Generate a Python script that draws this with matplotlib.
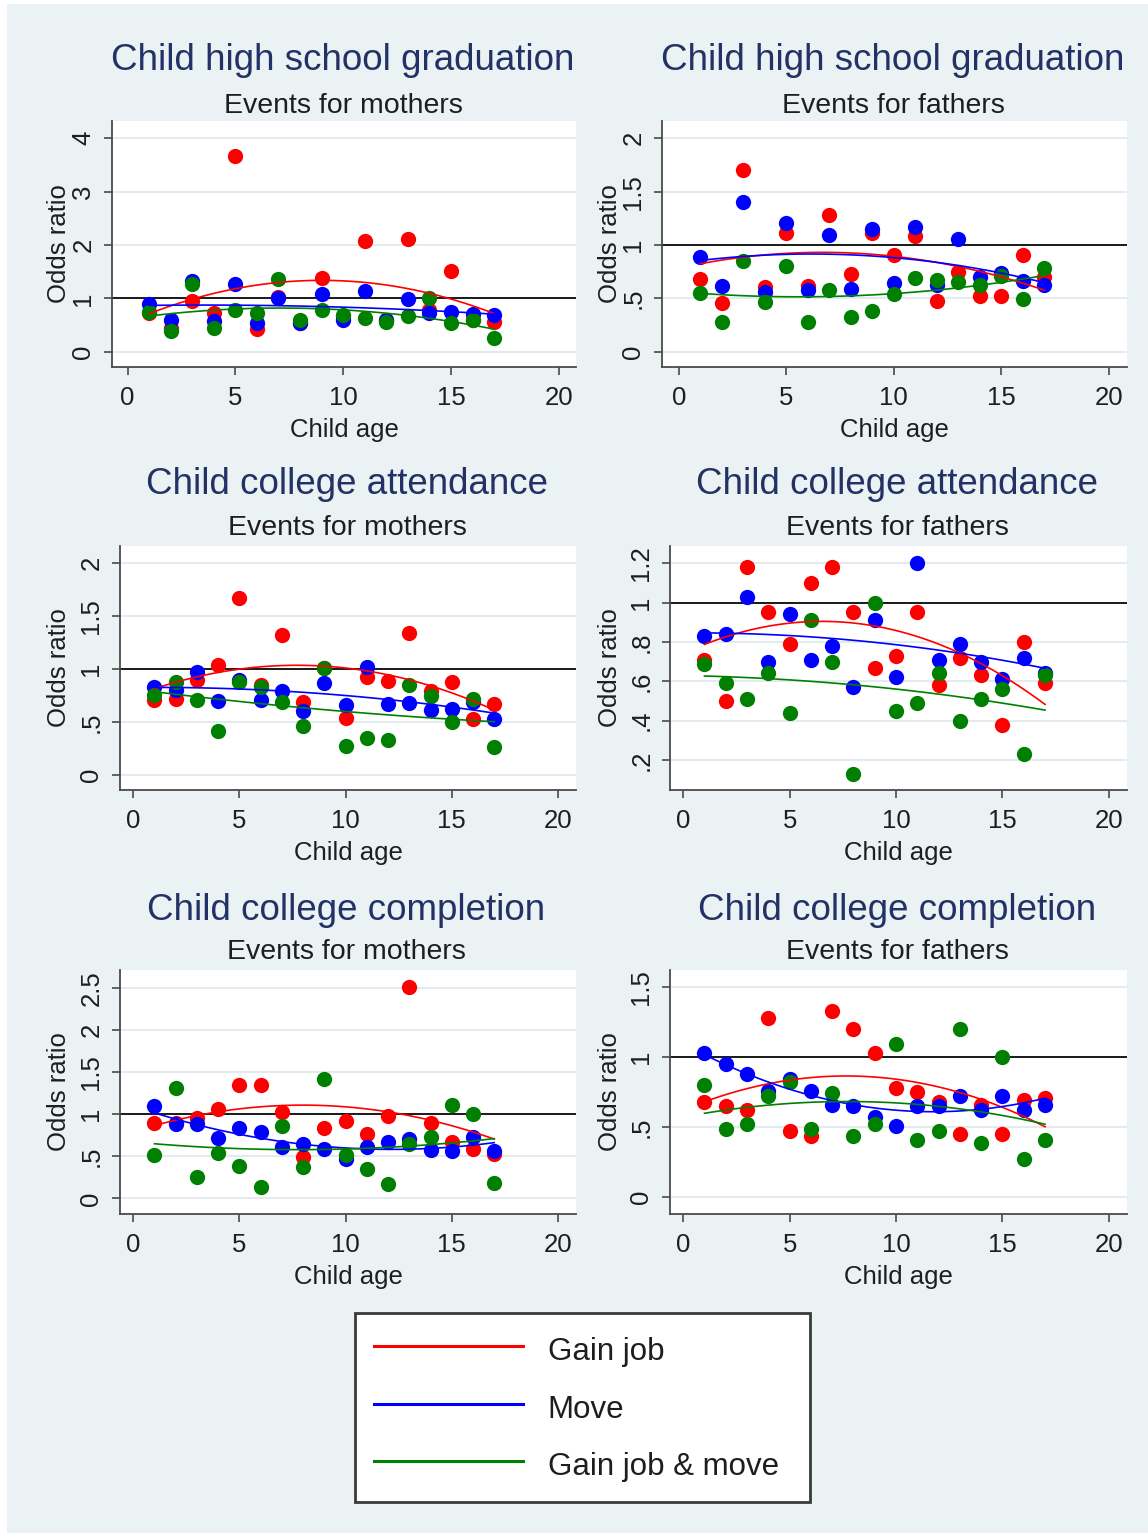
import numpy as np
import matplotlib
matplotlib.use('Agg')
import matplotlib.pyplot as plt
from matplotlib.lines import Line2D
from matplotlib.patches import Rectangle

plt.rcParams['font.family'] = ['Liberation Sans', 'DejaVu Sans']

W, H = 1148, 1533

# --- datos --------------------------------------------------------------
ages = list(range(1, 18))

# high school graduation, mothers
hs_mom_job = [0.72, 0.44, 0.95, 0.72, 3.67, 0.42, 1.02, 0.53, 1.39, 0.65, 2.07, 0.59, 2.12, 0.79, 1.51, 0.60, 0.56]
hs_mom_move = [0.90, 0.59, 1.33, 0.58, 1.26, 0.53, 1.00, 0.53, 1.09, 0.60, 1.14, 0.59, 0.98, 0.72, 0.75, 0.71, 0.69]
hs_mom_both = [0.75, 0.38, 1.26, 0.44, 0.78, 0.72, 1.36, 0.59, 0.79, 0.69, 0.63, 0.56, 0.67, 1.00, 0.54, 0.59, 0.26]

# high school graduation, fathers
hs_dad_job = [0.68, 0.46, 1.70, 0.61, 1.11, 0.62, 1.28, 0.73, 1.11, 0.91, 1.08, 0.48, 0.75, 0.52, 0.52, 0.91, 0.70]
hs_dad_move = [0.89, 0.62, 1.40, 0.56, 1.21, 0.58, 1.09, 0.59, 1.15, 0.64, 1.17, 0.63, 1.06, 0.70, 0.74, 0.66, 0.63]
hs_dad_both = [0.55, 0.28, 0.85, 0.47, 0.80, 0.28, 0.58, 0.33, 0.38, 0.54, 0.69, 0.67, 0.65, 0.63, 0.71, 0.49, 0.78]

# college attendance, mothers
att_mom_job = [0.71, 0.72, 0.90, 1.04, 1.67, 0.85, 1.32, 0.69, 1.01, 0.54, 0.93, 0.89, 1.34, 0.79, 0.88, 0.53, 0.67]
att_mom_move = [0.83, 0.80, 0.97, 0.70, 0.90, 0.71, 0.79, 0.60, 0.87, 0.66, 1.02, 0.67, 0.68, 0.61, 0.62, 0.69, 0.53]
att_mom_both = [0.76, 0.88, 0.71, 0.42, 0.88, 0.83, 0.69, 0.46, 1.01, 0.27, 0.35, 0.33, 0.85, 0.75, 0.50, 0.72, 0.26]

# college attendance, fathers
att_dad_job = [0.71, 0.50, 1.18, 0.95, 0.79, 1.10, 1.18, 0.95, 0.67, 0.73, 0.95, 0.58, 0.72, 0.63, 0.38, 0.80, 0.59]
att_dad_move = [0.83, 0.84, 1.03, 0.70, 0.94, 0.71, 0.78, 0.57, 0.91, 0.62, 1.20, 0.71, 0.79, 0.70, 0.61, 0.72, 0.64]
att_dad_both = [0.69, 0.59, 0.51, 0.64, 0.44, 0.91, 0.70, 0.13, 1.00, 0.45, 0.49, 0.64, 0.40, 0.51, 0.56, 0.23, 0.63]

# college completion, mothers
comp_mom_job = [0.89, 0.90, 0.95, 1.06, 1.34, 1.35, 1.02, 0.49, 0.84, 0.92, 0.76, 0.98, 2.51, 0.89, 0.67, 0.59, 0.53]
comp_mom_move = [1.09, 0.88, 0.88, 0.72, 0.83, 0.79, 0.61, 0.64, 0.58, 0.47, 0.61, 0.67, 0.70, 0.57, 0.56, 0.73, 0.56]
comp_mom_both = [0.52, 1.31, 0.25, 0.54, 0.38, 0.13, 0.86, 0.37, 1.42, 0.52, 0.35, 0.17, 0.65, 0.73, 1.11, 1.00, 0.18]

# college completion, fathers
comp_dad_job = [0.68, 0.65, 0.62, 1.28, 0.47, 0.44, 1.33, 1.20, 1.03, 0.78, 0.75, 0.68, 0.45, 0.66, 0.45, 0.69, 0.71]
comp_dad_move = [1.03, 0.95, 0.88, 0.76, 0.84, 0.76, 0.66, 0.65, 0.57, 0.51, 0.65, 0.65, 0.72, 0.62, 0.72, 0.62, 0.66]
comp_dad_both = [0.80, 0.49, 0.52, 0.72, 0.82, 0.49, 0.74, 0.44, 0.52, 1.09, 0.41, 0.47, 1.20, 0.39, 1.00, 0.27, 0.41]

series_names = ['Gain job', 'Move', 'Gain job & move']
outcomes = ['Child high school graduation', 'Child college attendance', 'Child college completion']
parents = ['Events for mothers', 'Events for fathers']

x_ticks = [0, 5, 10, 15, 20]
y_ticks = [[0, 1, 2, 3, 4], [0, 0.5, 1, 1.5, 2],
           [0, 0.5, 1, 1.5, 2], [0.2, 0.4, 0.6, 0.8, 1, 1.2],
           [0, 0.5, 1, 1.5, 2, 2.5], [0, 0.5, 1, 1.5]]
y_ticklabels = [['0', '1', '2', '3', '4'], ['0', '.5', '1', '1.5', '2'],
                ['0', '.5', '1', '1.5', '2'], ['.2', '.4', '.6', '.8', '1', '1.2'],
                ['0', '.5', '1', '1.5', '2', '2.5'], ['0', '.5', '1', '1.5']]

panel_data = [
    (hs_mom_job, hs_mom_move, hs_mom_both),
    (hs_dad_job, hs_dad_move, hs_dad_both),
    (att_mom_job, att_mom_move, att_mom_both),
    (att_dad_job, att_dad_move, att_dad_both),
    (comp_mom_job, comp_mom_move, comp_mom_both),
    (comp_dad_job, comp_dad_move, comp_dad_both),
]

# --- estilo / posiciones (pixeles) --------------------------------------
colors = ['#ff0000', '#0000ff', '#008000']
bg = '#eaf2f3'
title_col = '#233266'
txt_col = '#1e1e1e'

# x0, y0, x1, y1 en pixeles; limites de ejes
rects = [(112, 121, 576, 367), (662, 121, 1127, 367),
         (120, 546, 576, 790), (670, 546, 1127, 790),
         (120, 970, 576, 1214), (670, 970, 1127, 1214)]
xlims = [(-0.72, 20.8), (-0.78, 20.85), (-0.62, 20.85), (-0.62, 20.85), (-0.62, 20.85), (-0.62, 20.85)]
ylims = [(-0.287, 4.324), (-0.143, 2.162), (-0.142, 2.164), (0.0475, 1.288), (-0.186, 2.71), (-0.119, 1.619)]
title_x = [343, 893, 347, 897, 346, 897]
title_y = [61, 485, 910]
sub_y = [106, 528, 952]

fig = plt.figure(figsize=(W / 100, H / 100), dpi=100, facecolor='white')
fig.patches.append(Rectangle((7 / W, 0), 1 - 7 / W, 1 - 4 / H, transform=fig.transFigure,
                             facecolor=bg, edgecolor='none', zorder=-10))


def px_rect(x0, y0, x1, y1):
    return [x0 / W, 1 - y1 / H, (x1 - x0) / W, (y1 - y0) / H]


x_fit = np.linspace(1, 17, 120)

for i, (r, datos) in enumerate(zip(rects, panel_data)):
    ax = fig.add_axes(px_rect(*r))
    ax.set_facecolor('white')
    ax.set_xlim(*xlims[i])
    ax.set_ylim(*ylims[i])

    for vals, c in zip(datos, colors):
        ax.plot(ages, vals, 'o', color=c, ms=11, mew=0, zorder=3)
    # ajuste cuadratico (qfit)
    for vals, c in zip(datos, colors):
        coefs = np.polyfit(ages, vals, 2)
        ax.plot(x_fit, np.polyval(coefs, x_fit), color=c, lw=1.2, zorder=4)

    ax.axhline(1, color='#1a1a1a', lw=1.4, zorder=2)

    ax.set_xticks(x_ticks)
    ax.set_yticks(y_ticks[i])
    ax.set_yticklabels(y_ticklabels[i])
    for lbl in ax.get_yticklabels():
        lbl.set_rotation(90)
        lbl.set_va('center')
    ax.yaxis.grid(True, color='#e3ebee', lw=1.5, zorder=0)
    ax.set_axisbelow(True)

    for s in ['top', 'right']:
        ax.spines[s].set_visible(False)
    for s in ['left', 'bottom']:
        ax.spines[s].set_color('#4a4a4a')
        ax.spines[s].set_linewidth(1.3)
    ax.tick_params(direction='out', length=6, width=1.2, color='#4a4a4a',
                   labelsize=18.5, labelcolor=txt_col, pad=6)
    ax.tick_params(axis='x', pad=8)

    w_px = r[2] - r[0]
    h_px = r[3] - r[1]
    ax.set_xlabel('Child age', fontsize=18.5, color=txt_col)
    ax.xaxis.set_label_coords(0.5, -51 / h_px)
    ax.set_ylabel('Odds ratio', fontsize=18.5, color=txt_col)
    ylab_x = 57 if i % 2 == 0 else 608
    ax.yaxis.set_label_coords((ylab_x + 14 - r[0]) / w_px, 0.5)

    row = i // 2
    fig.text(title_x[i] / W, 1 - title_y[row] / H, outcomes[row], fontsize=26.5,
             color=title_col, ha='center', va='center')
    fig.text(title_x[i] / W, 1 - sub_y[row] / H, parents[i % 2], fontsize=20.5,
             color=txt_col, ha='center', va='center')

handles = [Line2D([], [], color=c, lw=2.2) for c in colors]
leg = fig.legend(handles, series_names, loc='upper left',
                 bbox_to_anchor=(355 / W, 1 - 1502 / H, 455 / W, 189 / H),
                 mode='expand', borderaxespad=0,
                 fontsize=22.5, handlelength=4.77, handletextpad=0.77,
                 handleheight=1.3, labelspacing=0.74, borderpad=0.62,
                 frameon=True, fancybox=False)
leg.get_frame().set_edgecolor('#3a3a3a')
leg.get_frame().set_linewidth(2)
leg.get_frame().set_facecolor('white')
leg.get_frame().set_alpha(1)
for t in leg.get_texts():
    t.set_color(txt_col)

fig.savefig('out.png', dpi=100, facecolor=fig.get_facecolor())
